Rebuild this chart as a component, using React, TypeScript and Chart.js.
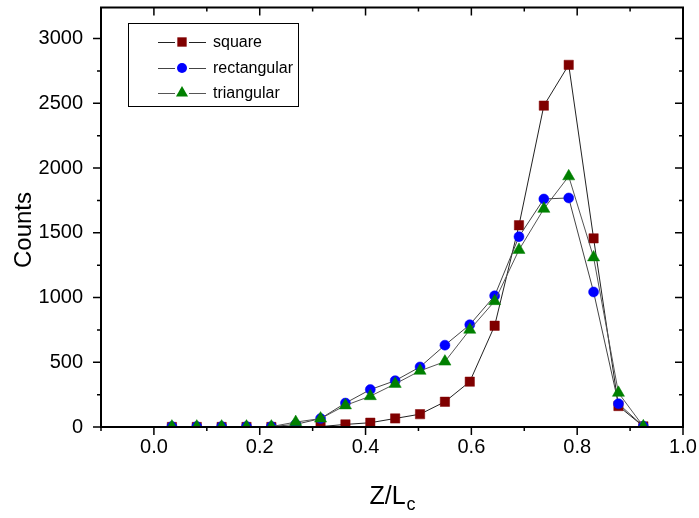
import React, { useEffect, useRef } from "react";
import { Chart, registerables } from "chart.js";

Chart.register(...registerables);

// ---- data ----
const zOverLc = [0.034, 0.081, 0.128, 0.175, 0.222, 0.268, 0.315, 0.362, 0.409, 0.456, 0.503, 0.550, 0.597, 0.644, 0.690, 0.737, 0.784, 0.831, 0.878, 0.925];
const squareCounts = [0, 0, 0, 0, 0, 0, 3, 20, 33, 66, 99, 195, 350, 782, 1558, 2482, 2797, 1457, 162, 5];
const rectangularCounts = [3, 3, 3, 3, 3, 20, 65, 185, 289, 358, 464, 632, 790, 1013, 1470, 1761, 1769, 1043, 180, 5];
const triangularCounts = [3, 3, 3, 3, 3, 38, 65, 167, 238, 333, 434, 505, 751, 972, 1368, 1685, 1936, 1310, 264, 5];

const seriesNames = ["square", "rectangular", "triangular"];
const xMajorTicks = [0.0, 0.2, 0.4, 0.6, 0.8, 1.0];
const xMinorTicks = [-0.1, 0.1, 0.3, 0.5, 0.7, 0.9];
const yMajorTicks = [0, 500, 1000, 1500, 2000, 2500, 3000];
const yMinorTicks = [250, 750, 1250, 1750, 2250, 2750];
const xTitle = "Z/L";
const xTitleSub = "c";
const yTitle = "Counts";

const FONT = "'Liberation Sans', Arial, sans-serif";
const styles = [
  { style: "rect", color: "#800000", line: "#222", radius: 6.6 },
  { style: "circle", color: "#0000ff", line: "#444", radius: 5 },
  { style: "triangle", color: "#008000", line: "#555", radius: 7 },
];

function drawMarker(ctx: CanvasRenderingContext2D, style: string, x: number, y: number, r: number, color: string) {
  ctx.save();
  ctx.fillStyle = color;
  ctx.beginPath();
  if (style === "rect") {
    const s = Math.SQRT1_2 * r;
    ctx.rect(x - s, y - s, 2 * s, 2 * s);
  } else if (style === "circle") {
    ctx.arc(x, y, r, 0, Math.PI * 2);
  } else {
    ctx.moveTo(x, y - r);
    ctx.lineTo(x + r * Math.cos(Math.PI / 6), y + r / 2);
    ctx.lineTo(x - r * Math.cos(Math.PI / 6), y + r / 2);
    ctx.closePath();
  }
  ctx.fill();
  ctx.restore();
}

const framePlugin = {
  id: "frameTicks",
  afterDatasetsDraw(chart: any) {
    const ctx: CanvasRenderingContext2D = chart.ctx;
    const { left, right, top, bottom } = chart.chartArea;
    const xs = chart.scales.x;
    const ys = chart.scales.y;
    ctx.save();
    ctx.strokeStyle = "#000";
    ctx.lineWidth = 1.5;
    ctx.beginPath();
    const tick = (x1: number, y1: number, x2: number, y2: number) => {
      ctx.moveTo(x1, y1);
      ctx.lineTo(x2, y2);
    };
    const MAJ = 8, MIN = 4;
    xMajorTicks.forEach((v) => {
      const p = xs.getPixelForValue(v);
      tick(p, bottom, p, bottom + MAJ);
      tick(p, top, p, top + MAJ);
    });
    xMinorTicks.forEach((v) => {
      const p = xs.getPixelForValue(v);
      tick(p, bottom, p, bottom + MIN);
      tick(p, top, p, top + MIN);
    });
    yMajorTicks.forEach((v) => {
      const p = ys.getPixelForValue(v);
      tick(left, p, left - MAJ, p);
      tick(right, p, right - MAJ, p);
    });
    yMinorTicks.forEach((v) => {
      const p = ys.getPixelForValue(v);
      tick(left, p, left - MIN, p);
      tick(right, p, right - MIN, p);
    });
    ctx.stroke();
    ctx.lineWidth = 2;
    ctx.strokeRect(left, top, right - left, bottom - top);
    ctx.restore();
  },
  afterDraw(chart: any) {
    const ctx: CanvasRenderingContext2D = chart.ctx;
    const { left, right } = chart.chartArea;
    ctx.save();
    // legend
    const bx = 128, by = 23, bw = 170, bh = 83;
    ctx.fillStyle = "#fff";
    ctx.fillRect(bx, by, bw, bh);
    ctx.strokeStyle = "#000";
    ctx.lineWidth = 1;
    ctx.strokeRect(bx + 0.5, by + 0.5, bw, bh);
    const rows = [42, 68, 93];
    seriesNames.forEach((name, i) => {
      const y = rows[i];
      const st = styles[i];
      ctx.strokeStyle = st.line;
      ctx.lineWidth = 1;
      ctx.beginPath();
      ctx.moveTo(158, y + 0.5);
      ctx.lineTo(175, y + 0.5);
      ctx.moveTo(189, y + 0.5);
      ctx.lineTo(206, y + 0.5);
      ctx.stroke();
      drawMarker(ctx, st.style, 182, y, st.radius, st.color);
      ctx.fillStyle = "#000";
      ctx.font = `16px ${FONT}`;
      ctx.textAlign = "left";
      ctx.textBaseline = "middle";
      ctx.fillText(name, 213, y + 1);
    });
    // y title
    ctx.fillStyle = "#000";
    ctx.save();
    ctx.translate(31, 230);
    ctx.rotate(-Math.PI / 2);
    ctx.font = `24px ${FONT}`;
    ctx.textAlign = "center";
    ctx.textBaseline = "alphabetic";
    ctx.fillText(yTitle, 0, 0);
    ctx.restore();
    // x title
    ctx.font = `25px ${FONT}`;
    const w1 = ctx.measureText(xTitle).width;
    ctx.font = `18px ${FONT}`;
    const w2 = ctx.measureText(xTitleSub).width;
    const cx = (left + right) / 2;
    const start = cx - (w1 + w2) / 2;
    ctx.textAlign = "left";
    ctx.textBaseline = "alphabetic";
    ctx.font = `25px ${FONT}`;
    ctx.fillText(xTitle, start, 504);
    ctx.font = `18px ${FONT}`;
    ctx.fillText(xTitleSub, start + w1 + 1, 510);
    ctx.restore();
  },
};

export default function App() {
  const ref = useRef<HTMLCanvasElement | null>(null);
  useEffect(() => {
    document.body.style.margin = "0";
    const canvas = ref.current!;
    const mk = (vals: number[], i: number) => ({
      label: seriesNames[i],
      data: zOverLc.map((x, k) => ({ x, y: vals[k] })),
      showLine: true,
      borderColor: styles[i].line,
      borderWidth: 1,
      pointStyle: styles[i].style,
      pointRadius: styles[i].radius,
      pointHoverRadius: styles[i].radius,
      pointBackgroundColor: styles[i].color,
      pointBorderColor: styles[i].color,
      pointBorderWidth: 0.5,
      order: 2 - i,
      clip: 0,
    });
    const chart = new Chart(canvas, {
      type: "scatter",
      data: {
        datasets: [mk(squareCounts, 0), mk(rectangularCounts, 1), mk(triangularCounts, 2)],
      },
      plugins: [framePlugin],
      options: {
        animation: false,
        responsive: false,
        devicePixelRatio: 1,
        layout: { padding: { top: 2, right: 16, left: 0, bottom: 0 } },
        plugins: { legend: { display: false }, tooltip: { enabled: false }, title: { display: false } },
        scales: {
          x: {
            type: "linear",
            min: -0.1,
            max: 1.0,
            afterBuildTicks: (s: any) => {
              s.ticks = xMajorTicks.map((v) => ({ value: v }));
            },
            afterFit: (s: any) => {
              s.height = 91;
              s.paddingLeft = 0;
              s.paddingRight = 0;
            },
            grid: { display: false, drawTicks: false },
            border: { display: false },
            ticks: {
              color: "#000",
              font: { family: FONT, size: 20 },
              padding: 8,
              maxRotation: 0,
              autoSkip: false,
              callback: (v: any) => Number(v).toFixed(1),
            },
          },
          y: {
            type: "linear",
            min: 0,
            max: 3240,
            afterBuildTicks: (s: any) => {
              s.ticks = yMajorTicks.map((v) => ({ value: v }));
            },
            afterFit: (s: any) => {
              s.width = 101;
              s.paddingTop = 0;
              s.paddingBottom = 0;
            },
            grid: { display: false, drawTicks: false },
            border: { display: false },
            ticks: {
              color: "#000",
              font: { family: FONT, size: 20 },
              padding: 18,
              autoSkip: false,
              callback: (v: any) => String(v),
            },
          },
        },
      } as any,
    });
    return () => chart.destroy();
  }, []);
  return (
    <div style={{ width: 699, height: 518 }}>
      <canvas ref={ref} width={699} height={518} style={{ width: 699, height: 518, display: "block" }} />
    </div>
  );
}
